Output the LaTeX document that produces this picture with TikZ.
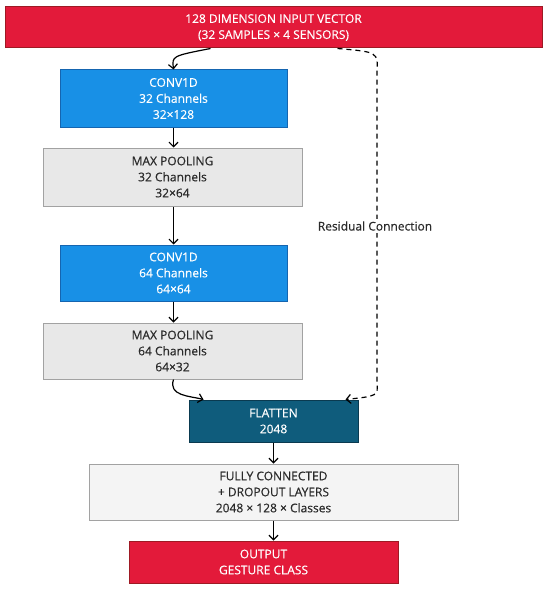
\documentclass[tikz,border=0pt]{standalone}
\usepackage{fontspec}
\setmainfont{Open Sans}[FakeBold=0.4]
\usepackage{xcolor}
\usetikzlibrary{arrows.meta, positioning, calc}
\definecolor{inred}{HTML}{E31A3A}
\definecolor{inredline}{HTML}{9E1A24}
\definecolor{convblue}{HTML}{1890E6}
\definecolor{convline}{HTML}{1565B0}
\definecolor{poolgray}{HTML}{E8E8E8}
\definecolor{poolline}{HTML}{A2A2A2}
\definecolor{flatteal}{HTML}{0F5C7C}
\definecolor{flatline}{HTML}{0A3A50}
\definecolor{fcgray}{HTML}{F4F4F4}
\definecolor{txtdark}{HTML}{2A2A2A}

\begin{document}
\begin{tikzpicture}[x=1pt,y=-1pt,
  font=\fontsize{12}{16}\selectfont,
  layer/.style={draw, line width=1pt, align=center, inner sep=0pt},
  inbox/.style={layer, fill=inred, draw=inredline, text=white},
  convbox/.style={layer, fill=convblue, draw=convline, text=white},
  poolbox/.style={layer, fill=poolgray, draw=poolline, text=txtdark, minimum width=259pt},
  flow/.style={line width=1.2pt, -{Straight Barb[length=4.5pt,width=9pt]}},
  resid/.style={flow, dashed, dash pattern=on 5pt off 4pt}]
\useasboundingbox (0,0) rectangle (550,591);
% Input
\node[inbox, minimum width=537pt, minimum height=41pt] (input) at (273.5,27.5)
  {128 DIMENSION INPUT VECTOR\\(32 SAMPLES × 4 SENSORS)};
% Convolution and pooling layers
\node[convbox, minimum width=227pt, minimum height=57pt] (conv1) at (173.5,98.5)
  {CONV1D\\32 Channels\\32×128};
\node[poolbox, minimum height=58pt] (pool1) at (172.5,177)
  {MAX POOLING\\32 Channels\\32×64};
\node[convbox, minimum width=227pt, minimum height=56pt] (conv2) at (173.5,273)
  {CONV1D\\64 Channels\\64×64};
\node[poolbox, minimum height=56pt] (pool2) at (172.5,351)
  {MAX POOLING\\64 Channels\\64×32};
% Flatten
\node[layer, fill=flatteal, draw=flatline, text=white, minimum width=169pt,
  minimum height=42pt] (flatten) at (273.5,421) {FLATTEN\\2048};
% Dense
\node[layer, fill=fcgray, draw=poolline, text=txtdark, minimum width=369pt,
  minimum height=56pt] (dense) at (273.5,492)
  {FULLY CONNECTED\\+ DROPOUT LAYERS\\2048 × 128 × Classes};
% Output
\node[inbox, minimum width=269pt, minimum height=42pt] (output) at (263.5,562)
  {OUTPUT\\GESTURE CLASS};

% Arrows
\draw[flow] ([xshift=-63pt]input.south) .. controls (172,56) .. (conv1.north);
\draw[flow] (conv1.south) -- (conv1.south |- pool1.north);
\draw[flow] (conv1.south |- pool1.south) -- (conv2.north);
\draw[flow] (conv2.south) -- (conv2.south |- pool2.north);
\draw[flow] (conv2.south |- pool2.south) .. controls (168,396) and (190,396) .. ([xshift=-70pt]flatten.north);
\draw[flow] (flatten.south) -- (flatten.south |- dense.north);
\draw[flow] (flatten.south |- dense.south) -- (output.north -| dense.south);
% Residual
\draw[resid] ([xshift=64pt]input.south) .. controls (378,52) .. (377,72)
  -- (377,382) .. controls (378,396) .. ([xshift=72pt]flatten.north);
\node[fill=white, text=txtdark, inner sep=2pt] (residlabel) at (375,226) {Residual Connection};
\end{tikzpicture}
\end{document}
